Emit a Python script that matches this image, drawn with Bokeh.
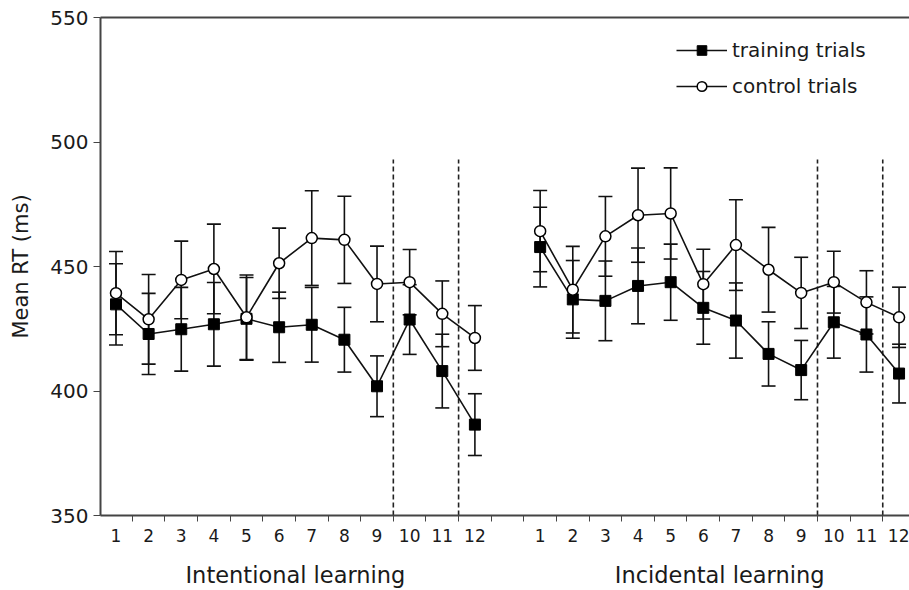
from bokeh.plotting import figure
from bokeh.models import (ColumnDataSource, Whisker, TeeHead, FixedTicker, LinearAxis,
                          Legend, LegendItem, Range1d)
from bokeh.embed import file_html
from bokeh.resources import INLINE

# ---------------- data ----------------
trial_labels = [str(i) for i in range(1, 13)]
group_labels = ["Intentional learning", "Incidental learning"]

int_training = [434.8, 422.9, 424.8, 426.8, 429.0, 425.6, 426.6, 420.6, 401.9, 428.7, 408.0, 386.5]
int_training_se = [16.3, 16.3, 16.8, 16.8, 16.6, 14.1, 15.0, 13.0, 12.2, 14.0, 14.8, 12.4]
int_control = [439.3, 428.8, 444.6, 449.0, 429.6, 451.3, 461.4, 460.7, 443.0, 443.7, 431.0, 421.3]
int_control_se = [16.7, 18.0, 15.6, 18.0, 17.0, 14.1, 19.0, 17.5, 15.2, 13.1, 13.2, 13.0]

inc_training = [457.8, 436.8, 436.2, 442.2, 443.7, 433.4, 428.3, 414.9, 408.4, 427.6, 422.7, 407.0]
inc_training_se = [16.0, 15.6, 16.0, 15.2, 15.3, 14.6, 15.1, 12.9, 11.9, 14.4, 15.1, 11.8]
inc_control = [464.2, 440.7, 462.1, 470.6, 471.3, 442.9, 458.6, 448.7, 439.4, 443.7, 435.6, 429.6]
inc_control_se = [16.3, 17.4, 16.0, 18.9, 18.3, 14.0, 18.2, 17.0, 14.3, 12.4, 12.7, 12.1]

boundaries_after = [9, 11]      # dashed lines after trial 9 and 11 in each panel
boundary_top = 493
y_ticks = [350, 400, 450, 500, 550]

# ---------------- layout helpers ----------------
n = len(trial_labels)
offset = n + 1                   # one empty slot between panels
int_x = [i + 1 for i in range(n)]
inc_x = [i + 1 + offset for i in range(n)]

FONT = "DejaVu Sans"
TXT = "#1a1a1a"
AX = "#444444"

p = figure(width=909, height=590, x_range=Range1d(0.525, 25.32), y_range=Range1d(350, 550),
           output_backend="svg", toolbar_location=None,
           min_border_left=100, min_border_right=0, min_border_top=17, min_border_bottom=73)
p.xgrid.visible = False
p.ygrid.visible = False
p.outline_line_color = None
p.background_fill_color = "white"
p.border_fill_color = "white"

# x axis: labels at trials, tick marks between trials
all_x = int_x + inc_x
xa = p.xaxis[0]
xa.ticker = FixedTicker(ticks=all_x, minor_ticks=[k + 0.5 for k in range(0, 26)])
xa.major_label_overrides = {x: lab for x, lab in zip(int_x, trial_labels)} | {x: lab for x, lab in zip(inc_x, trial_labels)}
xa.major_tick_out = 0
xa.major_tick_in = 0
xa.major_tick_line_color = None
xa.minor_tick_out = 6
xa.minor_tick_in = 0
xa.minor_tick_line_color = AX
xa.minor_tick_line_width = 1
xa.axis_line_color = AX
xa.axis_line_width = 2
xa.major_label_standoff = 7
xa.major_label_text_font = FONT
xa.major_label_text_font_size = "17px"
xa.major_label_text_color = TXT

# group label axis
ga = LinearAxis(ticker=FixedTicker(ticks=[6.5, 6.5 + offset]),
                major_label_overrides={6.5: group_labels[0], 6.5 + offset: group_labels[1]})
ga.axis_line_color = None
ga.major_tick_line_color = None
ga.minor_tick_line_color = None
ga.major_tick_out = 0
ga.major_tick_in = 0
ga.major_label_standoff = 17
ga.major_label_text_font = FONT
ga.major_label_text_font_size = "22.5px"
ga.major_label_text_color = TXT
p.add_layout(ga, "below")

# top border line
ta = LinearAxis(ticker=FixedTicker(ticks=[]))
ta.axis_line_color = AX
ta.axis_line_width = 2
ta.major_tick_line_color = None
ta.minor_tick_line_color = None
ta.major_label_text_font_size = "0px"
p.add_layout(ta, "above")

# y axis
ya = p.yaxis[0]
ya.ticker = FixedTicker(ticks=y_ticks)
ya.major_tick_out = 7
ya.major_tick_in = 0
ya.minor_tick_line_color = None
ya.major_tick_line_color = AX
ya.axis_line_color = AX
ya.axis_line_width = 2
ya.major_label_standoff = 5
ya.major_label_text_font = FONT
ya.major_label_text_font_size = "20px"
ya.major_label_text_color = TXT
ya.axis_label = "Mean RT (ms)"
ya.axis_label_text_font = FONT
ya.axis_label_text_font_size = "21px"
ya.axis_label_text_font_style = "normal"
ya.axis_label_text_color = TXT
ya.axis_label_standoff = 14

# dashed phase boundaries
bx = [b + 0.5 for b in boundaries_after] + [b + 0.5 + offset for b in boundaries_after]
p.segment(x0=bx, x1=bx, y0=[350] * len(bx), y1=[boundary_top] * len(bx),
          line_color="#222222", line_width=1.6, line_dash="5 3")

legend_items = {"training": [], "control": []}


def add_series(xs, ys, se):
    src = ColumnDataSource(dict(x=xs, y=ys, upper=[a + b for a, b in zip(ys, se)],
                                lower=[a - b for a, b in zip(ys, se)]))
    w = Whisker(base="x", upper="upper", lower="lower", source=src,
                line_color="#111111", line_width=1.6,
                upper_head=TeeHead(size=14, line_color="#111111", line_width=1.6),
                lower_head=TeeHead(size=14, line_color="#111111", line_width=1.6))
    p.add_layout(w)
    return src


srcs = []
for xs, ys, se, kind in [(int_x, int_training, int_training_se, "training"),
                         (int_x, int_control, int_control_se, "control"),
                         (inc_x, inc_training, inc_training_se, "training"),
                         (inc_x, inc_control, inc_control_se, "control")]:
    srcs.append((add_series(xs, ys, se), kind))

for src, kind in srcs:
    ln = p.line("x", "y", source=src, line_color="#111111", line_width=1.6)
    legend_items[kind].append(ln)
for src, kind in srcs:
    if kind == "training":
        sc = p.scatter("x", "y", source=src, marker="square", size=11,
                       fill_color="black", line_color="black")
    else:
        sc = p.scatter("x", "y", source=src, marker="circle", size=11,
                       fill_color="white", line_color="black", line_width=1.5)
    legend_items[kind].append(sc)

legend = Legend(items=[
    LegendItem(label="training trials", renderers=[legend_items["training"][0], legend_items["training"][2]]),
    LegendItem(label="control trials", renderers=[legend_items["control"][0], legend_items["control"][2]]),
], location=(576, 417))
legend.glyph_width = 51
legend.glyph_height = 24
legend.label_height = 24
legend.spacing = 12
legend.label_standoff = 5
legend.padding = 0
legend.margin = 0
legend.border_line_color = None
legend.background_fill_alpha = 0
legend.label_text_font = FONT
legend.label_text_font_size = "20px"
legend.label_text_color = TXT
p.add_layout(legend)

open("out.html", "w").write(file_html(p, INLINE))
